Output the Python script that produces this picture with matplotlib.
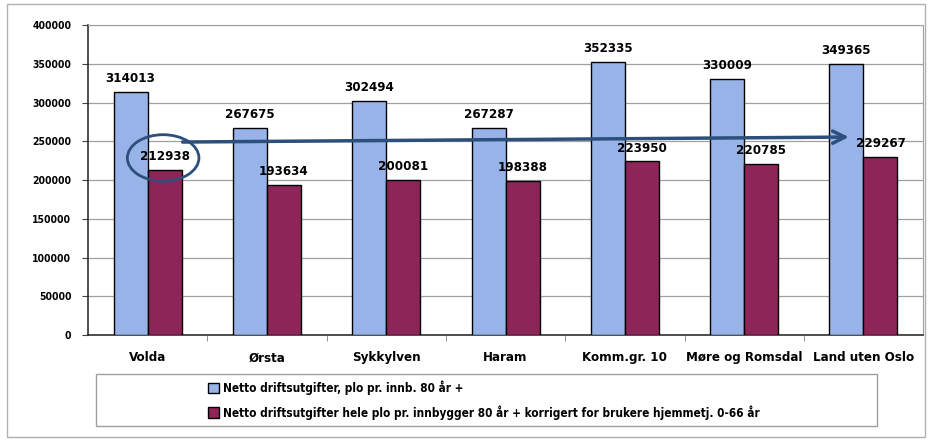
import numpy as np
from matplotlib import pyplot as plt
import matplotlib.patches as patches

# smal font, som i originalen (Arial Narrow)
plt.rcParams['font.family'] = ['DejaVu Sans']
plt.rcParams['font.stretch'] = 'condensed'

kommuner = ['Volda', 'Ørsta', 'Sykkylven', 'Haram', 'Komm.gr. 10',
            'Møre og Romsdal', 'Land uten Oslo']
plo_80 = [314013, 267675, 302494, 267287, 352335, 330009, 349365]
plo_korr = [212938, 193634, 200081, 198388, 223950, 220785, 229267]
serie_navn = ['Netto driftsutgifter, plo pr. innb. 80 år +',
              'Netto driftsutgifter hele plo pr. innbygger 80 år + korrigert for brukere hjemmetj. 0-66 år']
y_ticks = np.arange(0, 400001, 50000)

blue = '#98b3e8'
maroon = '#8e2558'

fig = plt.figure(figsize=(9.3, 4.4), dpi=100)
ax = fig.add_axes([0.0946, 0.2386, 0.898, 0.7045])

x = np.arange(len(kommuner))
w = 0.285
b1 = ax.bar(x - w/2, plo_80, w, color=blue, edgecolor='black', linewidth=1, label=serie_navn[0], zorder=3)
b2 = ax.bar(x + w/2, plo_korr, w, color=maroon, edgecolor='black', linewidth=1, label=serie_navn[1], zorder=3)

for bars, vals in [(b1, plo_80), (b2, plo_korr)]:
    for rect, v in zip(bars, vals):
        ax.annotate(str(v), (rect.get_x() + rect.get_width()/2, v), xytext=(0, 5),
                    textcoords='offset points', ha='center', va='bottom',
                    fontsize=9.5, fontweight='bold', zorder=5)

ax.set_xlim(-0.5, len(kommuner) - 0.5)
ax.set_ylim(0, 400000)
ax.set_yticks(y_ticks)
ax.set_yticklabels([str(t) for t in y_ticks], fontsize=7.5, fontweight='bold')
ax.set_xticks(x)
ax.set_xticklabels(kommuner, fontsize=9.5, fontweight='bold')
ax.set_xticks(x[:-1] + 0.5, minor=True)
ax.tick_params(axis='x', which='major', length=0, pad=19)
ax.tick_params(axis='x', which='minor', length=4, color='#808080')
ax.tick_params(axis='y', length=4, color='#404040', pad=8)
for lbl in ax.get_xticklabels():
    lbl.set_va('baseline')
ax.grid(axis='y', color='#a0a0a0', linewidth=0.9, zorder=0)
for s in ['top', 'right']:
    ax.spines[s].set_color('#a0a0a0')
for s in ['left', 'bottom']:
    ax.spines[s].set_color('#303030')
    ax.spines[s].set_linewidth(1.2)

# ring rundt Volda og pil mot Land uten Oslo
ax.add_patch(patches.Ellipse((0.13, 228500), 0.6, 60000, fill=False,
                             edgecolor='#2c4f7c', linewidth=2, zorder=6))
ax.annotate('', xy=(5.9, 255500), xytext=(0.27, 249000),
            arrowprops=dict(arrowstyle='->', color='#2c4f7c', lw=2.5,
                            mutation_scale=22), zorder=6)

# legend-boks
fig.patches.append(patches.Rectangle((0.103, 0.032), 0.84, 0.118, transform=fig.transFigure,
                                     fill=False, edgecolor='#a0a0a0', linewidth=1))
fig.legend(handles=[b1, b2], loc='center left', bbox_to_anchor=(0.212, 0.091),
           frameon=False, prop={'size': 8.5, 'weight': 'bold'},
           handlelength=0.95, handleheight=0.95, handletextpad=0.3, labelspacing=0.85)

# ytre ramme
fig.patches.append(patches.Rectangle((0.0075, 0.007), 0.987, 0.985, transform=fig.transFigure,
                                     fill=False, edgecolor='#b0b0b0', linewidth=1))

fig.savefig('out.png', dpi=100)
